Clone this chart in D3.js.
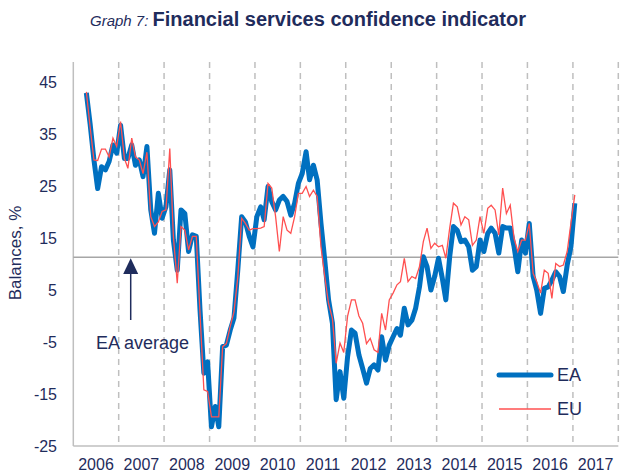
<!DOCTYPE html>
<html>
<head>
<meta charset="utf-8">
<script src="https://cdn.jsdelivr.net/npm/d3@7"></script>
<style>
  body { margin: 0; background: white; }
  svg text { font-family: "Liberation Sans Narrow", "Arial Narrow", "Liberation Sans", sans-serif; fill: #1f2c5c; }
</style>
</head>
<body>
<svg width="626" height="475"></svg>
<script>
// monthly balances, April 2006 to January 2017
let firstMonth = [2006, 3]

let ea = [42.9, 37.0, 30.0, 24.5, 28.7, 28.1, 29.7, 32.9, 31.3, 36.7, 30.3, 30.3,
  32.9, 29.0, 30.0, 26.8, 32.6, 20.4, 15.9, 23.6, 18.8, 21.0, 28.1, 14.6,
  8.8, 20.4, 19.7, 12.4, 15.6, 15.3, 1.2, -11.0, -8.8, -21.3, -17.4, -21.3,
  -5.9, -5.6, -2.7, -0.4, 8.9, 19.1, 18.1, 15.3, 13.3, 19.1, 21.0, 18.5,
  24.9, 22.0, 20.4, 22.3, 23.0, 22.0, 19.4, 21.7, 25.5, 27.4, 31.6, 26.2,
  29.0, 26.2, 17.8, 10.8, 3.1, -1.4, -16.1, -10.7, -15.8, -7.8, -2.7, -3.3,
  -7.5, -10.1, -12.9, -10.1, -9.4, -10.4, -4.0, -8.5, -5.6, -4.0, -2.4, -3.7,
  1.5, -1.7, -0.8, 1.5, 5.6, 11.4, 9.5, 5.0, 7.6, 11.1, 7.2, 3.1,
  11.4, 17.2, 16.5, 14.3, 14.6, 13.3, 8.8, 9.5, 14.6, 12.4, 15.9, 16.9,
  15.9, 12.1, 17.2, 16.9, 16.9, 13.3, 8.5, 14.6, 12.1, 17.8, 7.6, 5.0,
  0.5, 5.3, 5.6, 6.9, 8.5, 7.6, 4.7, 9.8, 13.3, 21.7]

let eu = [43.1, 36.4, 30.0, 29.9, 32.1, 32.1, 30.6, 34.2, 32.6, 37.4, 30.3, 28.4,
  34.2, 30.6, 30.0, 27.4, 31.5, 19.1, 17.2, 18.1, 20.1, 20.4, 32.2, 15.3,
  6.3, 17.2, 16.5, 12.7, 15.3, 15.3, 0.5, -14.2, -14.5, -19.4, -19.4, -19.4,
  -5.9, -5.3, -2.0, 0.8, 7.5, 18.8, 17.8, 16.5, 16.8, 16.8, 16.9, 17.2,
  25.5, 24.6, 19.1, 12.4, 19.1, 16.5, 15.9, 19.1, 23.6, 23.6, 24.9, 23.0,
  24.2, 23.0, 13.3, 7.6, 2.4, -0.5, -9.1, -5.2, -7.0, 0.0, 3.1, 3.1,
  0.0, -1.4, -5.3, -4.3, -6.5, -7.0, 0.5, -2.7, 3.1, 4.4, 6.0, 6.6,
  11.1, 6.6, 7.6, 7.2, 9.5, 14.3, 16.9, 13.0, 14.0, 13.3, 13.6, 11.1,
  16.9, 21.7, 21.0, 17.5, 19.1, 18.5, 13.6, 14.6, 19.1, 15.9, 20.7, 21.3,
  20.4, 15.6, 24.6, 19.7, 21.3, 14.9, 12.4, 14.6, 14.6, 17.8, 8.2, 6.6,
  4.4, 8.8, 8.2, 3.4, 10.1, 9.5, 9.8, 12.4, 17.8, 23.3]

let eaAverage = 11.3
let years = [2006, 2007, 2008, 2009, 2010, 2011, 2012, 2013, 2014, 2015, 2016, 2017]
let yTicks = [45, 35, 25, 15, 5, -5, -15, -25]

let svg = d3.select("svg")

let plotTop = 62, plotBottom = 446, plotLeft = 73.3, plotRight = 618.3

let x = d3.scaleTime()
  .domain([new Date(2006, 0, 1), new Date(2018, 0, 1)])
  .range([plotLeft, plotRight])

let y = d3.scaleLinear()
  .domain([-25, 45])
  .range([plotBottom, 82])

let dates = ea.map((d, i) => new Date(firstMonth[0], firstMonth[1] + i, 16))

// title
let title = svg.append("text")
  .attr("x", 308)
  .attr("y", 26)
  .attr("text-anchor", "middle")
title.append("tspan")
  .style("font-style", "italic")
  .style("font-size", "15px")
  .text("Graph 7: ")
title.append("tspan")
  .style("font-weight", "bold")
  .style("font-size", "20px")
  .text("Financial services confidence indicator")

// vertical dashed year lines
svg.selectAll(".grid")
  .data(years.slice(1).concat([2018]))
  .enter()
  .append("line")
  .attr("x1", d => x(new Date(d, 0, 1)))
  .attr("x2", d => x(new Date(d, 0, 1)))
  .attr("y1", plotTop)
  .attr("y2", plotBottom)
  .style("stroke", "#bfbfbf")
  .style("stroke-width", 1.5)
  .style("stroke-dasharray", "6,5")

// axis lines
svg.append("line")
  .attr("x1", plotLeft).attr("x2", plotLeft)
  .attr("y1", plotTop).attr("y2", plotBottom)
  .style("stroke", "#bfbfbf")
  .style("stroke-width", 1.5)

svg.append("line")
  .attr("x1", plotLeft).attr("x2", plotRight)
  .attr("y1", plotBottom).attr("y2", plotBottom)
  .style("stroke", "#bfbfbf")
  .style("stroke-width", 1.5)

// y tick labels
svg.selectAll(".ytick")
  .data(yTicks)
  .enter()
  .append("text")
  .attr("x", 57)
  .attr("y", d => y(d))
  .attr("dy", "0.35em")
  .attr("text-anchor", "end")
  .style("font-size", "16px")
  .text(d => d)

// year labels
svg.selectAll(".xtick")
  .data(years)
  .enter()
  .append("text")
  .attr("x", d => (x(new Date(d, 0, 1)) + x(new Date(d + 1, 0, 1))) / 2)
  .attr("y", 470)
  .attr("text-anchor", "middle")
  .style("font-size", "16px")
  .text(d => d)

svg.append("text")
  .attr("transform", "translate(21,253) rotate(-90)")
  .attr("text-anchor", "middle")
  .style("font-size", "17px")
  .text("Balances, %")

// EA average line
svg.append("line")
  .attr("x1", plotLeft).attr("x2", plotRight)
  .attr("y1", y(eaAverage)).attr("y2", y(eaAverage))
  .style("stroke", "#a6a6a6")
  .style("stroke-width", 1.5)

let line = d3.line()
  .x((d, i) => x(dates[i]))
  .y(d => y(d))

svg.append("path")
  .datum(ea)
  .attr("d", line)
  .style("fill", "none")
  .style("stroke", "#0070c0")
  .style("stroke-width", 5)
  .style("stroke-linejoin", "round")

svg.append("path")
  .datum(eu)
  .attr("d", line)
  .style("fill", "none")
  .style("stroke", "#ff5050")
  .style("stroke-width", 1.3)

// annotation arrow
let ax = 130.7
svg.append("line")
  .attr("x1", ax).attr("x2", ax)
  .attr("y1", 320).attr("y2", 270)
  .style("stroke", "#1f2c5c")
  .style("stroke-width", 1.5)
svg.append("path")
  .attr("d", `M${ax},${y(eaAverage) + 1} L${ax - 7.5},274 L${ax + 7.5},274 Z`)
  .style("fill", "#1f2c5c")

svg.append("text")
  .attr("x", 96)
  .attr("y", 349)
  .style("font-size", "18px")
  .text("EA average")

// legend
svg.append("line")
  .attr("x1", 499).attr("x2", 551)
  .attr("y1", 375).attr("y2", 375)
  .style("stroke", "#0070c0")
  .style("stroke-width", 5)
  .style("stroke-linecap", "round")
svg.append("text")
  .attr("x", 557).attr("y", 375)
  .attr("dy", "0.35em")
  .style("font-size", "18px")
  .text("EA")

svg.append("line")
  .attr("x1", 499).attr("x2", 551)
  .attr("y1", 409).attr("y2", 409)
  .style("stroke", "#ff5050")
  .style("stroke-width", 1.3)
svg.append("text")
  .attr("x", 557).attr("y", 409)
  .attr("dy", "0.35em")
  .style("font-size", "18px")
  .text("EU")
</script>
</body>
</html>
